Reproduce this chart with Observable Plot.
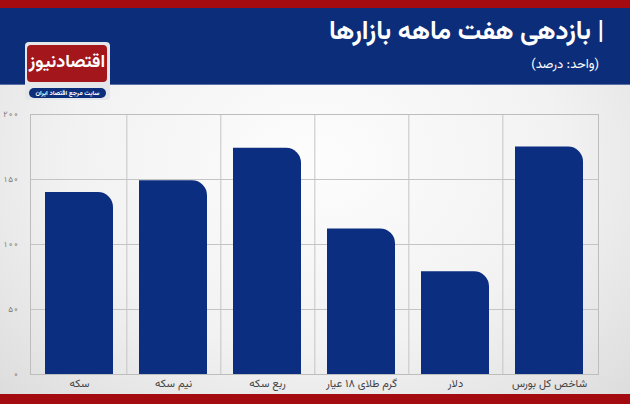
<!DOCTYPE html>
<html>
<head>
<meta charset="utf-8">
<script src="https://cdn.jsdelivr.net/npm/d3@7"></script>
<script src="https://cdn.jsdelivr.net/npm/@observablehq/plot@0.6"></script>
<style>
  html, body { margin: 0; padding: 0; }
  body { width: 630px; height: 404px; overflow: hidden; font-family: "Vazirmatn", "Noto Sans Arabic", "DejaVu Sans", sans-serif; }
  #wrap { position: relative; width: 630px; height: 404px;
    background: radial-gradient(ellipse at 50% 40%, #fdfdfd 0%, #f2f2f2 55%, #dcdcdc 100%); }
  #topbar { position: absolute; left: 0; top: 0; width: 630px; height: 8px; background: #a30b10; }
  #header { position: absolute; left: 0; top: 8px; width: 630px; height: 76px; background: #0c2d7a; border-bottom: 1px solid #5a6fa6; }
  #title { position: absolute; right: 26px; top: 12px; color: #fff; font-size: 26px; font-weight: bold; direction: rtl; white-space: nowrap; }
  #subtitle { position: absolute; right: 31px; top: 55px; color: #fff; font-size: 13px; direction: rtl; white-space: nowrap; }
  #logo { position: absolute; left: 25px; top: 42px; width: 85px; height: 58px; background: #e4e6ea; border-radius: 4px; }
  #logored { position: absolute; left: 2px; top: 3px; width: 80px; height: 37px; background: #a3161b; border-radius: 4px; color: #fff; font-size: 18px; font-weight: bold; text-align: center; line-height: 36px; direction: rtl; overflow: hidden; white-space: nowrap; }
  #logopill { position: absolute; left: 4px; top: 46px; width: 77px; height: 10px; background: #0c2d7a; border-radius: 5px; color: #fff; font-size: 6.5px; font-weight: bold; text-align: center; line-height: 10px; direction: rtl; }
  #chart { position: absolute; left: 0; top: 104px; }
  #bottombar { position: absolute; left: 0; top: 394px; width: 630px; height: 10px; background: #a30b10; }
</style>
</head>
<body>
<div id="wrap">
  <div id="topbar"></div>
  <div id="header"></div>
  <div id="title">| بازدهی هفت ماهه بازارها</div>
  <div id="subtitle">(واحد: درصد)</div>
  <div id="logo">
    <div id="logored">اقتصادنیوز</div>
    <div id="logopill">سایت مرجع اقتصاد ایران</div>
  </div>
  <div id="chart"></div>
  <div id="bottombar"></div>
</div>
<script>
const categories = ["سکه", "نیم سکه", "ربع سکه", "گرم طلای ۱۸ عیار", "دلار", "شاخص کل بورس"];
const values = [140, 149, 174, 112, 79, 175];
const yTicks = [0, 50, 100, 150, 200];

const data = categories.map((c, i) => ({category: c, value: values[i]}));
const toPersian = n => String(n).replace(/\d/g, d => "۰۱۲۳۴۵۶۷۸۹"[d]);

const W = 630, H = 290, ml = 30, mr = 32;
const step = (W - ml - mr) / categories.length;

const chart = Plot.plot({
  width: W,
  height: H,
  marginTop: 10,
  marginBottom: 20,
  marginLeft: ml,
  marginRight: mr,
  style: {background: "transparent", fontFamily: "'Vazirmatn','Noto Sans Arabic','DejaVu Sans',sans-serif"},
  x: {domain: categories, paddingInner: 0.28, paddingOuter: 0.14, label: null},
  y: {domain: [0, 200], label: null},
  marks: [
    Plot.gridY(yTicks, {stroke: "#c4c4c4", strokeOpacity: 1, strokeWidth: 1}),
    Plot.ruleX(categories.slice(0, -1), {x: d => d, dx: step / 2, stroke: "#c4c4c4", strokeWidth: 1}),
    Plot.frame({stroke: "#bdbdbd", strokeWidth: 1}),
    Plot.barY(data, {x: "category", y: "value", fill: "#0b2e80", rx2y1: 15}),
    Plot.axisY(yTicks, {tickSize: 0, tickPadding: 12, fontSize: 8, fill: "#777", tickFormat: toPersian, label: null}),
    Plot.axisX({tickSize: 0, tickPadding: 5, fontSize: 11, fill: "#444", label: null})
  ]
});
document.getElementById("chart").appendChild(chart);
</script>
</body>
</html>
